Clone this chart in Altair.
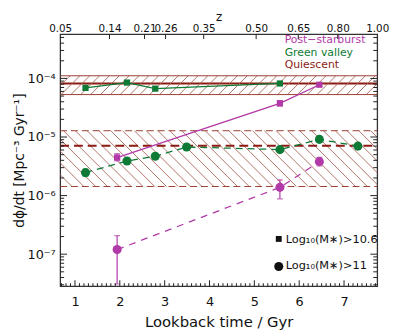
import altair as alt
import pandas as pd
import numpy as np

# ---------------- data ----------------
gv_sq_t = [1.235, 2.16, 2.79, 5.57]
gv_sq_v = [6.9e-5, 8.5e-5, 6.7e-5, 8.2e-5]

gv_ci_t = [1.235, 2.16, 2.79, 3.49, 5.57, 6.45, 7.31]
gv_ci_v = [2.47e-6, 3.9e-6, 4.7e-6, 6.75e-6, 6.1e-6, 9.1e-6, 7.0e-6]
gv_ci_lo = [2.15e-6, 3.6e-6, 4.4e-6, 6.4e-6, 5.8e-6, 8.6e-6, 6.6e-6]
gv_ci_hi = [2.8e-6, 4.2e-6, 5.0e-6, 7.1e-6, 6.4e-6, 9.6e-6, 7.4e-6]

psb_sq_t = [1.94, 5.57, 6.45]
psb_sq_v = [4.46e-6, 3.76e-5, 7.8e-5]
psb_sq_lo = [3.9e-6, 3.4e-5, 7.3e-5]
psb_sq_hi = [5.2e-6, 4.2e-5, 8.3e-5]

psb_ci_t = [1.94, 5.57, 6.45]
psb_ci_v = [1.2e-7, 1.38e-6, 3.8e-6]
psb_ci_lo = [3.1e-8, 8.8e-7, 3.2e-6]
psb_ci_hi = [2.07e-7, 1.86e-6, 4.5e-6]

q_sq_v, q_sq_lo, q_sq_hi = 8.2e-5, 5.3e-5, 1.11e-4
q_ci_v, q_ci_lo, q_ci_hi = 7.1e-6, 1.43e-6, 1.28e-5

x_ticks = [1, 2, 3, 4, 5, 6, 7]
y_ticks = [1e-7, 1e-6, 1e-5, 1e-4]
z_labels = ["0.05", "0.14", "0.21", "0.26", "0.35", "0.50", "0.65", "0.80", "1.00"]
z_pos = [0.67, 1.77, 2.55, 3.02, 3.87, 5.04, 5.98, 6.86, 7.74]

# ---------------- style ----------------
W, H = 322, 256
XMIN, XMAX = 0.67, 7.74
LYMIN, LYMAX = -7.546, -3.244
FONT = "DejaVu Sans"
MAG = "#B23AA8"
GRN = "#0E7A35"
QRED = "#8B1A12"
HATCH = "#A86458"
EDGE = "#9A3E32"

xs = alt.Scale(domain=[XMIN, XMAX], nice=False, zero=False)
ys = alt.Scale(type="log", domain=[10 ** LYMIN, 10 ** LYMAX], nice=False)


def X(field, **kw):
    return alt.X(field, type="quantitative", scale=xs, axis=None, **kw)


def Y(field, **kw):
    return alt.Y(field, type="quantitative", scale=ys, axis=None, **kw)


def sdf(t, v, lo=None, hi=None):
    d = pd.DataFrame({"t": t, "v": v})
    if lo is not None:
        d["lo"] = lo
        d["hi"] = hi
    return d


gv_sq = sdf(gv_sq_t, gv_sq_v)
gv_ci = sdf(gv_ci_t, gv_ci_v, gv_ci_lo, gv_ci_hi)
psb_sq = sdf(psb_sq_t, psb_sq_v, psb_sq_lo, psb_sq_hi)
psb_ci = sdf(psb_ci_t, psb_ci_v, psb_ci_lo, psb_ci_hi)

# hatching lines for quiescent bands (decoration)
px_per_x = W / (XMAX - XMIN)
px_per_dec = H / (LYMAX - LYMIN)


def hatch(lo, hi, spacing_px, forward):
    hpx = (np.log10(hi) - np.log10(lo)) * px_per_dec
    dx = hpx / px_per_x
    step = spacing_px / px_per_x
    starts = np.arange(XMIN - dx - step, XMAX + step, step)
    if forward:
        return pd.DataFrame({"x": starts, "y": lo, "x2": starts + dx, "y2": hi})
    return pd.DataFrame({"x": starts, "y": hi, "x2": starts + dx, "y2": lo})


hatch_top = hatch(q_sq_lo, q_sq_hi, 10, True)
hatch_bot = hatch(q_ci_lo, q_ci_hi, 12, False)

layers = []

# base layer with bottom and left axes
base = alt.Chart(pd.DataFrame({"t": [XMIN, XMAX], "v": [q_sq_v, q_sq_v]})).mark_line(
    color=QRED, strokeWidth=2, clip=True
).encode(
    x=alt.X("t:Q", scale=xs, axis=alt.Axis(
        values=x_ticks, tickSize=0, domain=False, grid=False, labelFlush=False,
        labelFontSize=13, labelPadding=10, labelFont=FONT, labelColor="#111",
        title="Lookback time / Gyr", titleFont=FONT, titleFontSize=15,
        titleFontWeight="normal", titlePadding=6, titleColor="#111")),
    y=alt.Y("v:Q", scale=ys, axis=alt.Axis(
        values=y_ticks, tickSize=0, domain=False, grid=False, labelFlush=False,
        labelExpr="'10⁻' + ['⁰','¹','²','³','⁴','⁵','⁶','⁷','⁸','⁹'][-round(log(datum.value)/LN10)]",
        labelFontSize=13, labelPadding=5, labelFont=FONT, labelColor="#111",
        title="dϕ/dt [Mpc⁻³ Gyr⁻¹]", titleFont=FONT, titleFontSize=14,
        titleFontWeight="normal", titlePadding=1, titleColor="#111")),
)

# top axis (redshift)
top = alt.Chart(pd.DataFrame({"t": z_pos, "v": [q_sq_v] * len(z_pos)})).mark_point(opacity=0).encode(
    x=alt.X("t:Q", scale=xs, axis=alt.Axis(
        orient="top", values=z_pos, tickSize=0, domain=False, grid=False,
        labelFlush=False, labelOverlap=False,
        labelExpr="[" + ",".join("'%s'" % s for s in z_labels) + "][indexof([" +
                  ",".join(str(p) for p in z_pos) + "], datum.value)]",
        labelFontSize=10.5, labelPadding=1, labelFont=FONT, labelColor="#111",
        title="z", titleFont=FONT, titleFontSize=12, titleFontWeight="normal",
        titlePadding=0, titleColor="#111")),
    y=Y("v"),
)

# hatches
h1 = alt.Chart(hatch_top).mark_rule(color=HATCH, strokeWidth=0.9, clip=True).encode(
    x=X("x"), y=Y("y"), x2="x2", y2="y2")
h2 = alt.Chart(hatch_bot).mark_rule(color=HATCH, strokeWidth=0.9, clip=True).encode(
    x=X("x"), y=Y("y"), x2="x2", y2="y2")

edges_top = alt.Chart(pd.DataFrame({"v": [q_sq_lo, q_sq_hi]})).mark_rule(
    color=EDGE, strokeWidth=1).encode(y=Y("v"), x=alt.value(0), x2=alt.value(W))
edges_bot = alt.Chart(pd.DataFrame({"v": [q_ci_lo, q_ci_hi]})).mark_rule(
    color=EDGE, strokeWidth=1, strokeDash=[7, 4]).encode(y=Y("v"), x=alt.value(0), x2=alt.value(W))
q_dash = alt.Chart(pd.DataFrame({"v": [q_ci_v]})).mark_rule(
    color=QRED, strokeWidth=2, strokeDash=[9, 5]).encode(y=Y("v"), x=alt.value(0), x2=alt.value(W))


def series(df, color, shape, size, dash=None, err=True):
    out = []
    lk = dict(color=color, strokeWidth=1.3, clip=True)
    if dash:
        lk["strokeDash"] = dash
    out.append(alt.Chart(df).mark_line(**lk).encode(x=X("t"), y=Y("v")))
    if err:
        out.append(alt.Chart(df).mark_rule(color=color, strokeWidth=1.2, clip=True).encode(
            x=X("t"), y=Y("lo"), y2="hi"))
        for c in ["lo", "hi"]:
            out.append(alt.Chart(df).mark_tick(color=color, thickness=1.2, size=6,
                                               orient="horizontal", clip=True).encode(
                x=X("t"), y=Y(c)))
    out.append(alt.Chart(df).mark_point(filled=True, shape=shape, size=size, color=color,
                                        opacity=1).encode(x=X("t"), y=Y("v")))
    return out


layers += [base, top, h1, h2, edges_top, edges_bot, q_dash]
layers += series(gv_sq, GRN, "square", 40, err=False)
layers += series(gv_ci, GRN, "circle", 85, dash=[7, 5])
layers += series(psb_sq, MAG, "square", 40)
layers += series(psb_ci, MAG, "circle", 85, dash=[7, 6])

one = pd.DataFrame({"a": [0]})


def label(txt, x, y, color, size=11):
    return alt.Chart(one).mark_text(text=txt, align="left", baseline="middle", font=FONT,
                                    fontSize=size, color=color).encode(
        x=alt.value(x), y=alt.value(y))


layers += [
    label("Post−starburst", 228, 6.5, MAG),
    label("Green valley", 228, 19, GRN),
    label("Quiescent", 228, 31, QRED),
    label("Log₁₀(M∗)>10.6", 229, 209, "#111", 11.5),
    label("Log₁₀(M∗)>11", 229, 236, "#111", 11.5),
    alt.Chart(one).mark_point(shape="square", filled=True, size=36, color="#111", opacity=1).encode(
        x=alt.value(222), y=alt.value(208)),
    alt.Chart(one).mark_point(shape="circle", filled=True, size=85, color="#111", opacity=1).encode(
        x=alt.value(222), y=alt.value(236)),
]

# inward ticks (decoration)
x_minor = [round(v, 1) for v in np.arange(0.7, 7.75, 0.1) if abs(v - round(v)) > 1e-6]
y_minor = [m * 10.0 ** k for k in range(-8, -3) for m in range(2, 10)
           if LYMIN < np.log10(m * 10.0 ** k) < LYMAX]
TK = "#222"
layers += [
    alt.Chart(pd.DataFrame({"v": x_ticks})).mark_rule(color=TK).encode(
        x=X("v"), y=alt.value(H), y2=alt.value(H - 6)),
    alt.Chart(pd.DataFrame({"v": x_minor})).mark_rule(color=TK).encode(
        x=X("v"), y=alt.value(H), y2=alt.value(H - 3)),
    alt.Chart(pd.DataFrame({"v": z_pos[1:-1]})).mark_rule(color=TK).encode(
        x=X("v"), y=alt.value(0), y2=alt.value(5)),
    alt.Chart(pd.DataFrame({"v": y_ticks})).mark_rule(color=TK).encode(
        y=Y("v"), x=alt.value(0), x2=alt.value(7)),
    alt.Chart(pd.DataFrame({"v": y_minor})).mark_rule(color=TK).encode(
        y=Y("v"), x=alt.value(0), x2=alt.value(4)),
    alt.Chart(pd.DataFrame({"v": y_ticks})).mark_rule(color=TK).encode(
        y=Y("v"), x=alt.value(W), x2=alt.value(W - 7)),
    alt.Chart(pd.DataFrame({"v": y_minor})).mark_rule(color=TK).encode(
        y=Y("v"), x=alt.value(W), x2=alt.value(W - 4)),
]

chart = alt.layer(*layers).resolve_axis(x="independent", y="independent").properties(
    width=W, height=H,
    autosize=alt.AutoSizeParams(type="none"),
    padding={"left": 53, "top": 24, "right": 14, "bottom": 44},
).configure_view(stroke="#333", strokeWidth=1.3).configure_axis(grid=False)

chart.save("out.html", embed_options={"renderer": "svg", "actions": False})
